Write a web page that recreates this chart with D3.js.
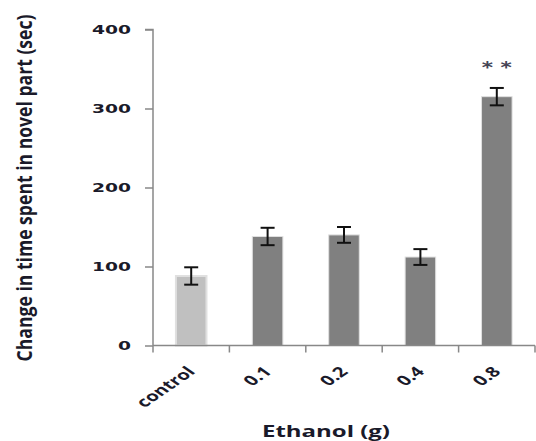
<!DOCTYPE html>
<html>
<head>
<meta charset="utf-8">
<script src="https://cdnjs.cloudflare.com/ajax/libs/d3/7.8.5/d3.min.js"></script>
<style>
  body { margin: 0; background: #fff; }
  svg { display: block; }
</style>
</head>
<body>
<svg id="chart" width="536" height="441"></svg>
<script>
// data
const doses = ["control", "0.1", "0.2", "0.4", "0.8"];
const means = [88, 138, 140, 112, 315];
const errs = [11, 11, 10, 10, 11];
const marks = ["", "", "", "", "* *"];
const barColors = ["#c0c0c0", "#808080", "#808080", "#808080", "#808080"];
const yTicks = [0, 100, 200, 300, 400];

const svg = d3.select("#chart");
const plotLeft = 153, plotRight = 535, plotTop = 29.5, plotBottom = 345.5;

const x = d3.scaleBand().domain(doses).range([plotLeft, plotRight]).paddingInner(0.6).paddingOuter(0.3);
const xb = d3.scaleBand().domain(doses).range([plotLeft, plotRight]);
const y = d3.scaleLinear().domain([0, 400]).range([plotBottom, plotTop]);

const axisColor = "#888";
const txtColor = "#1a1a2a";

// bars
svg.selectAll("rect.bar")
  .data(doses)
  .join("rect")
  .attr("class", "bar")
  .attr("x", d => x(d))
  .attr("width", x.bandwidth())
  .attr("y", (d, i) => y(means[i]))
  .attr("height", (d, i) => y(0) - y(means[i]))
  .attr("fill", (d, i) => barColors[i])
  .attr("stroke", "#e0e0e0")
  .attr("stroke-width", (d, i) => i === 0 ? 2 : 1);

// y axis
const yAxis = svg.append("g")
  .attr("transform", `translate(${plotLeft},0)`)
  .call(d3.axisLeft(y).tickValues(yTicks).tickSize(8).tickPadding(14));
yAxis.select(".domain").attr("stroke", axisColor).attr("stroke-width", 1.5)
  .attr("d", `M-8,${plotTop}H0V${plotBottom}`);
yAxis.selectAll(".tick line").attr("stroke", axisColor).attr("stroke-width", 1.5);
yAxis.selectAll(".tick text")
  .attr("font-family", "DejaVu Sans")
  .attr("font-weight", "bold")
  .attr("font-size", 13)
  .attr("fill", txtColor)
  .attr("textLength", d => String(d).length * 13)
  .attr("lengthAdjust", "spacingAndGlyphs");

// x axis line and ticks at category boundaries
svg.append("line")
  .attr("x1", plotLeft).attr("x2", plotRight)
  .attr("y1", y(0)).attr("y2", y(0))
  .attr("stroke", axisColor).attr("stroke-width", 1.5);
const bounds = doses.map(d => xb(d)).concat([plotRight]);
svg.selectAll("line.xtick")
  .data(bounds)
  .join("line")
  .attr("class", "xtick")
  .attr("x1", d => d).attr("x2", d => d)
  .attr("y1", y(0)).attr("y2", y(0) + 7)
  .attr("stroke", axisColor).attr("stroke-width", 1.5);

// error bars
const eb = svg.selectAll("g.err")
  .data(doses)
  .join("g")
  .attr("class", "err")
  .attr("stroke", "#111")
  .attr("stroke-width", 2);
eb.append("line")
  .attr("x1", d => x(d) + x.bandwidth() / 2)
  .attr("x2", d => x(d) + x.bandwidth() / 2)
  .attr("y1", (d, i) => y(means[i] + errs[i]))
  .attr("y2", (d, i) => y(means[i] - errs[i]));
[1, -1].forEach(s => {
  eb.append("line")
    .attr("x1", d => x(d) + x.bandwidth() / 2 - 7)
    .attr("x2", d => x(d) + x.bandwidth() / 2 + 7)
    .attr("y1", (d, i) => y(means[i] + s * errs[i]))
    .attr("y2", (d, i) => y(means[i] + s * errs[i]));
});

// significance marks
svg.selectAll("text.sig")
  .data(doses)
  .join("text")
  .attr("class", "sig")
  .attr("x", d => x(d) + x.bandwidth() / 2)
  .attr("y", (d, i) => y(means[i] + errs[i]) - 15)
  .attr("text-anchor", "middle")
  .attr("font-family", "DejaVu Sans")
  .attr("font-weight", "bold")
  .attr("font-size", 15)
  .attr("fill", "#445")
  .attr("textLength", (d, i) => marks[i] ? 30 : null)
  .attr("lengthAdjust", "spacingAndGlyphs")
  .text((d, i) => marks[i]);

// x tick labels, rotated
svg.selectAll("text.xlab")
  .data(doses)
  .join("text")
  .attr("class", "xlab")
  .attr("transform", d => `translate(${xb(d) + xb.bandwidth() / 2 + 5},${y(0) + 27}) scale(1.45,1) rotate(-45)`)
  .attr("text-anchor", "end")
  .attr("font-family", "Open Sans")
  .attr("font-weight", "bold")
  .attr("font-size", 14)
  .attr("fill", txtColor)
  .text(d => d);

// axis titles
svg.append("text")
  .attr("x", 326).attr("y", 437)
  .attr("text-anchor", "middle")
  .attr("font-family", "Open Sans")
  .attr("font-weight", "bold")
  .attr("font-size", 16)
  .attr("fill", txtColor)
  .attr("textLength", 128)
  .attr("lengthAdjust", "spacingAndGlyphs")
  .text("Ethanol (g)");

svg.append("text")
  .attr("transform", `translate(32,188) scale(1.45,1) rotate(-90)`)
  .attr("text-anchor", "middle")
  .attr("font-family", "Open Sans")
  .attr("font-weight", "bold")
  .attr("font-size", 15)
  .attr("fill", txtColor)
  .attr("textLength", 347)
  .attr("lengthAdjust", "spacingAndGlyphs")
  .text("Change in time spent in novel part (sec)");
</script>
</body>
</html>
